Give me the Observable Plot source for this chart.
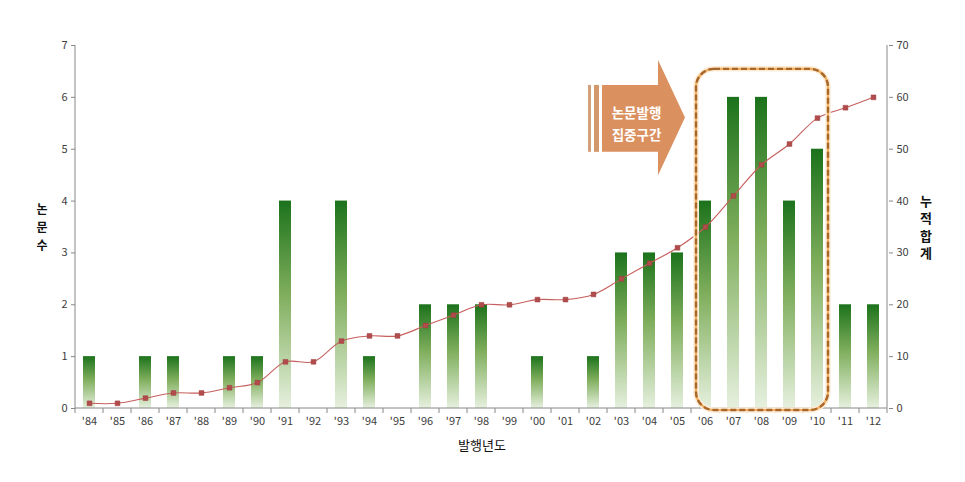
<!DOCTYPE html>
<html><head><meta charset="utf-8">
<script src="https://cdn.jsdelivr.net/npm/d3@7"></script>
<script src="https://cdn.jsdelivr.net/npm/@observablehq/plot@0.6"></script>
<style>body{margin:0;background:#fff} #chart svg{display:block}</style>
</head><body><div id="chart"></div>
<script>
const years = ["'84","'85","'86","'87","'88","'89","'90","'91","'92","'93","'94","'95","'96","'97","'98","'99","'00","'01","'02","'03","'04","'05","'06","'07","'08","'09","'10","'11","'12"];
const papers = [1,0,1,1,0,1,1,4,0,4,1,0,2,2,2,0,1,0,1,3,3,3,4,6,6,4,5,2,2];
const cumulative = [1,1,2,3,3,4,5,9,9,13,14,14,16,18,20,20,21,21,22,25,28,31,35,41,47,51,56,58,60];
const leftTicks = [0,1,2,3,4,5,6,7];
const rightTicks = [0,10,20,30,40,50,60,70];
const focusYears = ["'06","'10"];
const arrowFrom = "'02";
const calloutLines = ["논문발행","집중구간"];
const leftTitle = ["논","문","수"];
const rightTitle = ["누","적","합","계"];

const rows = years.map((year, i) => ({year, papers: papers[i], cum: cumulative[i]}));
const FONT = '"Noto Sans CJK KR", "Noto Sans", sans-serif';

const chart = Plot.plot({
  width: 965, height: 482,
  marginLeft: 75, marginRight: 77, marginTop: 45, marginBottom: 74,
  style: {fontFamily: FONT, fontSize: "11px", background: "#fff", color: "#404040"},
  x: {type: "band", domain: years, paddingInner: 0.57, paddingOuter: 0.285, label: null},
  y: {domain: [0, 7], label: null},
  marks: [
    Plot.barY(rows.filter(d => d.papers > 0), {x: "year", y: "papers", fill: "url(#barGrad)"}),
    Plot.line(rows, {x: "year", y: d => d.cum / 10, curve: "catmull-rom", stroke: "#c65f5d", strokeWidth: 1.1}),
    Plot.dot(rows, {x: "year", y: d => d.cum / 10, symbol: "square", r: 2.7, fill: "#b24c4c", stroke: "#9c3c3c", strokeWidth: 0.5}),
    Plot.axisY({anchor: "left", ticks: leftTicks, tickFormat: d => String(d), tickSize: 4, tickPadding: 4, stroke: "#888", fill: "#404040", label: null}),
    Plot.axisY({anchor: "right", ticks: rightTicks.map(v => v / 10), tickFormat: d => String(Math.round(d * 10)), tickSize: 4, tickPadding: 4, stroke: "#888", fill: "#404040", label: null}),
    Plot.axisX({tickSize: 0, tickPadding: 9, fill: "#404040", label: null}),
    Plot.text(["발행년도"], {frameAnchor: "bottom", dy: 41, fontSize: 13, fill: "#111"})
  ]
});
document.getElementById("chart").append(chart);

const svg = d3.select(chart);
const xs = chart.scale("x"), ys = chart.scale("y");
const step = xs.step, bw = xs.bandwidth;
const X = v => xs.apply(v);
const Y = v => ys.apply(v);

// gradient for bars
const defs = svg.insert("defs", ":first-child");
const g = defs.append("linearGradient").attr("id", "barGrad").attr("x1", 0).attr("y1", 0).attr("x2", 0).attr("y2", 1);
g.append("stop").attr("offset", "0%").attr("stop-color", "#1c721c");
g.append("stop").attr("offset", "45%").attr("stop-color", "#7fae5c");
g.append("stop").attr("offset", "100%").attr("stop-color", "#e6f0de");

// axis lines and boundary ticks
const xLeft = X(years[0]) - (step - bw) / 2;
const xRight = xLeft + step * years.length;
const yB = Y(0), yT = Y(7);
const ax = svg.append("g").attr("stroke", "#888").attr("stroke-width", 1).attr("fill", "none");
ax.append("line").attr("x1", xLeft).attr("x2", xLeft).attr("y1", yT).attr("y2", yB);
ax.append("line").attr("x1", xRight).attr("x2", xRight).attr("y1", yT).attr("y2", yB);
ax.append("line").attr("x1", xLeft).attr("x2", xRight).attr("y1", yB).attr("y2", yB);
d3.range(years.length + 1).forEach(k => {
  const xx = xLeft + k * step;
  ax.append("line").attr("x1", xx).attr("x2", xx).attr("y1", yB).attr("y2", yB + 5);
});

// stacked vertical axis titles
const midY = (yT + yB) / 2;
function stacked(chars, x, lh, fs) {
  const n = chars.length;
  chars.forEach((c, i) => {
    svg.append("text").attr("x", x).attr("y", midY + (i - (n - 1) / 2) * lh)
      .attr("text-anchor", "middle").attr("dominant-baseline", "central")
      .attr("font-family", FONT).attr("font-size", fs).attr("font-weight", "bold").attr("fill", "#111").text(c);
  });
}
stacked(leftTitle, xLeft - 33, 18, 12);
stacked(rightTitle, xRight + 39, 17.5, 13);

// dashed focus box
const bx1 = X(focusYears[0]) - 3, bx2 = X(focusYears[1]) + bw + 5;
const by1 = Y(6.54), by2 = Y(0) + 2;
const box = svg.append("g").attr("fill", "none");
box.append("rect").attr("x", bx1).attr("y", by1).attr("width", bx2 - bx1).attr("height", by2 - by1).attr("rx", 18)
  .attr("stroke", "#fcebd6").attr("stroke-width", 5.5);
box.append("rect").attr("x", bx1).attr("y", by1).attr("width", bx2 - bx1).attr("height", by2 - by1).attr("rx", 18)
  .attr("stroke", "#f0b060").attr("stroke-width", 2.2);
box.append("rect").attr("x", bx1).attr("y", by1).attr("width", bx2 - bx1).attr("height", by2 - by1).attr("rx", 18)
  .attr("stroke", "#a8672a").attr("stroke-width", 2.4).attr("stroke-dasharray", "6 3");

// callout arrow
const ax0 = X(arrowFrom) + 1;
const tip = X(focusYears[0]) - 14;
const head = tip - 27;
const bodyStart = ax0 + 14;
const yTop = Y(6.71), yBot = Y(4.49), bTop = Y(6.23), bBot = Y(4.94), yTip = Y(5.6);
const arr = svg.append("g");
arr.append("rect").attr("x", ax0).attr("y", bTop).attr("width", 3).attr("height", bBot - bTop).attr("fill", "#d3a07c");
arr.append("rect").attr("x", ax0 + 6).attr("y", bTop).attr("width", 5).attr("height", bBot - bTop).attr("fill", "#d3976c");
arr.append("path").attr("d", `M${bodyStart},${bTop}L${head},${bTop}L${head},${yTop}L${tip},${yTip}L${head},${yBot}L${head},${bBot}L${bodyStart},${bBot}Z`)
  .attr("fill", "#db915f");
const cx = (ax0 + tip) / 2, cy = Y(5.5);
calloutLines.forEach((t, i) => {
  arr.append("text").attr("x", cx).attr("y", cy + (i - 0.5) * 21.5).attr("text-anchor", "middle").attr("dominant-baseline", "central")
    .attr("fill", "#fff").attr("font-weight", "bold").attr("font-size", 13.5).attr("font-family", FONT).text(t);
});
</script>
</body></html>
